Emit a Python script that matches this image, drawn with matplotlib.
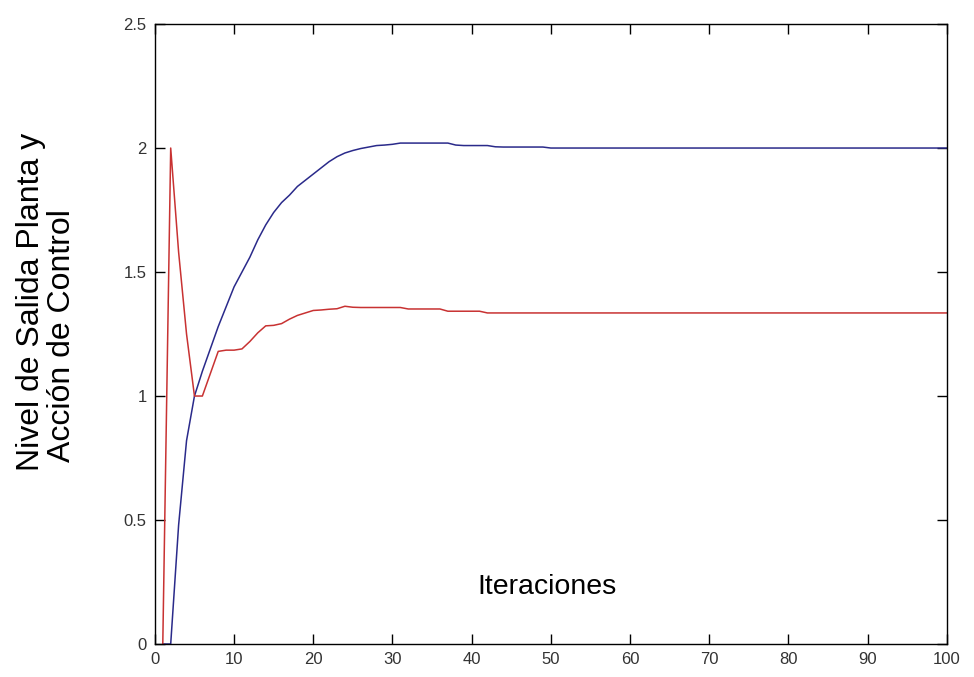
import numpy as np
import matplotlib
matplotlib.use('Agg')
import matplotlib.pyplot as plt

# iteration index (MATLAB style, 1..100)
iters = np.arange(1, 101)

# plant output (blue)
salida_head = [0.0, 0.0, 0.48, 0.82, 1.00, 1.10, 1.19, 1.28, 1.36, 1.44,
               1.50, 1.56, 1.63, 1.69, 1.74, 1.78, 1.81, 1.845, 1.87, 1.895,
               1.92, 1.945, 1.965, 1.98, 1.99, 1.998, 2.004, 2.01, 2.012, 2.015,
               2.02, 2.02, 2.02, 2.02, 2.02, 2.02, 2.02, 2.012, 2.01, 2.01,
               2.01, 2.01, 2.005, 2.004, 2.004, 2.004, 2.004, 2.004, 2.004]
salida_tail = [2.0] * (100 - len(salida_head))
salida = salida_head + salida_tail

# control action (red)
control_head = [0.0, 2.0, 1.58, 1.25, 1.0, 1.0, 1.09, 1.18, 1.185, 1.185,
                1.19, 1.22, 1.255, 1.283, 1.285, 1.292, 1.31, 1.325, 1.335, 1.345,
                1.347, 1.35, 1.352, 1.362, 1.358, 1.357, 1.357, 1.357, 1.357, 1.357,
                1.357, 1.351, 1.351, 1.351, 1.351, 1.351, 1.342, 1.342, 1.342, 1.342,
                1.342]
control_tail = [1.335] * (100 - len(control_head))
control = control_head + control_tail

ylabel_lines = ['Nivel de Salida Planta y', 'Acción de Control']

plt.rcParams['font.family'] = ['Liberation Sans', 'DejaVu Sans']

fig = plt.figure(figsize=(9.74, 6.77), dpi=100)
ax = fig.add_axes([0.159, 0.0487, 0.813, 0.9158])

ax.plot(iters, salida, color='#2a2a8a', linewidth=1.1)
ax.plot(iters, control, color='#c83232', linewidth=1.1)

ax.set_xlim(0, 100)
ax.set_ylim(0, 2.5)
ax.set_xticks(np.arange(0, 101, 10))
ax.set_yticks([0, 0.5, 1, 1.5, 2, 2.5])
ax.set_yticklabels(['0', '0.5', '1', '1.5', '2', '2.5'])
ax.tick_params(direction='in', top=True, right=True, length=7, width=1,
               labelsize=12, pad=6, labelcolor='#333333')
for s in ax.spines.values():
    s.set_linewidth(1)

# x label sits inside the axes in the original
ax.text(0.495, 0.092, 'Iteraciones', transform=ax.transAxes,
        ha='center', va='center', fontsize=20.5)

# two-line y label, both lines start near the same height
fig.text(0.032, 0.305, ylabel_lines[0], rotation=90,
         ha='center', va='bottom', fontsize=23)
fig.text(0.064, 0.318, ylabel_lines[1], rotation=90,
         ha='center', va='bottom', fontsize=23)

fig.savefig('out.png', dpi=100)
